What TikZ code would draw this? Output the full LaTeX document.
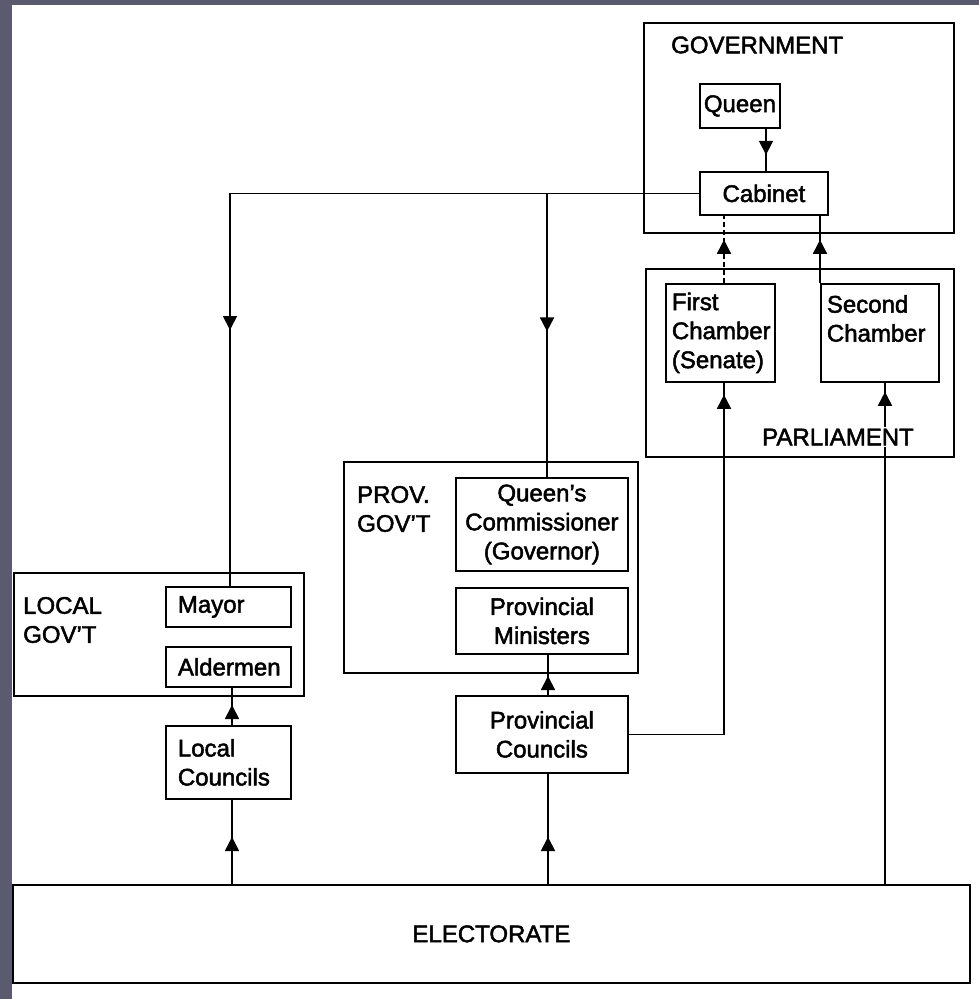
\documentclass[tikz,border=0pt]{standalone}
\usepackage{fontspec}
\setmainfont[FakeBold=2]{Liberation Sans}
\usetikzlibrary{arrows.meta,decorations.markings}
\definecolor{slate}{HTML}{5A5B6E}
\tikzset{
  ln/.style={line width=1.8pt},
  txt/.style={font=\fontsize{24}{29}\selectfont},
  box/.style={draw, ln, anchor=north west, inner sep=0pt, txt},
  cbox/.style={box, align=center},
  lbox/.style={box, align=left, inner xsep=#1},
  lab/.style={inner sep=0pt, txt, align=left},
  conn/.style={ln},
  tipat/.style={postaction={decorate}, decoration={markings,
      mark=at position #1 with {\arrow{Triangle[length=14pt,width=14pt]}}}},
}
\begin{document}
\begin{tikzpicture}[x=1pt,y=-1pt]
\fill[slate] (0,0) rectangle (979,999);
\fill[white] (12,5) rectangle (979,999);
\useasboundingbox (0,0) rectangle (979,999);

% containers
\node[box, minimum width=310pt, minimum height=210pt] (gov) at (643,22) {};
\node[box, minimum width=308pt, minimum height=188pt] (parl) at (645,268) {};
\node[box, minimum width=294pt, minimum height=211pt] (prov) at (343,461) {};
\node[box, minimum width=290pt, minimum height=123pt] (local) at (13,572) {};
\node[cbox, minimum width=957pt, minimum height=98pt] (elect) at (12,884) {ELECTORATE};

% inner boxes
\node[cbox, minimum width=80pt, minimum height=44pt] (queen) at (699,83) {Queen};
\node[cbox, minimum width=128pt, minimum height=43pt] (cab) at (699,171) {Cabinet};
\node[lbox=6pt, text width=97pt, minimum height=98pt] (fc) at (665,283) {First\\Chamber\\(Senate)};
\node[lbox=6pt, text width=106pt, minimum height=98pt] (sc) at (820,283) {Second\\Chamber\\\mbox{}};
\node[cbox, minimum width=172pt, minimum height=93pt] (qc) at (455,477) {Queen’s\\Commissioner\\(Governor)};
\node[cbox, minimum width=172pt, minimum height=66pt] (pm) at (455,587) {Provincial\\Ministers};
\node[cbox, minimum width=172pt, minimum height=77pt] (pc) at (455,695) {Provincial\\Councils};
\node[lbox=12pt, text width=101pt, minimum height=40pt] (mayor) at (165,586) {Mayor};
\node[lbox=12pt, text width=101pt, minimum height=40pt] (ald) at (165,646) {Aldermen};
\node[lbox=12pt, text width=101pt, minimum height=73pt] (lc) at (165,725) {Local\\Councils};

% labels
\node[lab, anchor=west] (govlab) at (671,45) {GOVERNMENT};
\node[lab, anchor=west] (provlab) at (357,509) {PROV.\\GOV'T};
\node[lab, anchor=west] (locallab) at (23,620) {LOCAL\\GOV'T};

% columns
\coordinate (lx) at (232,0);
\coordinate (px) at (548,0);
\coordinate (mx) at (230,0);
\coordinate (bx) at (547,0);
\coordinate (fx) at (724,0);
\coordinate (sx) at (885,0);
\coordinate (qx) at (766,0);

% connectors
\draw[conn, tipat=26pt] (qx |- queen.south) -- (qx |- cab.north);
\draw[conn, tipat=-256pt] (cab.west) -| (mx |- mayor.north);
\draw[conn, tipat=138pt] (bx |- cab.west) -- (bx |- qc.north);
\draw[conn, dash pattern=on 5pt off 3pt, tipat=-24pt] (fx |- fc.north) -- (fx |- cab.south);
\draw[conn, tipat=-24pt] (sc.north west) -- (sc.north west |- cab.south);
\draw[conn, tipat=-12pt] (pc.east) -| (fx |- fc.south);
\draw[conn, tipat=-9pt] (sx |- elect.north) -- (sx |- sc.south);
\draw[conn, tipat=19pt] (px |- pc.north) -- (px |- pm.south);
\draw[conn, tipat=47pt] (px |- elect.north) -- (px |- pc.south);
\draw[conn, tipat=20pt] (lx |- lc.north) -- (lx |- ald.south);
\draw[conn, tipat=47pt] (lx |- elect.north) -- (lx |- lc.south);

\node[lab, fill=white, inner sep=2pt] (parllab) at (838,437) {PARLIAMENT};
\end{tikzpicture}
\end{document}
